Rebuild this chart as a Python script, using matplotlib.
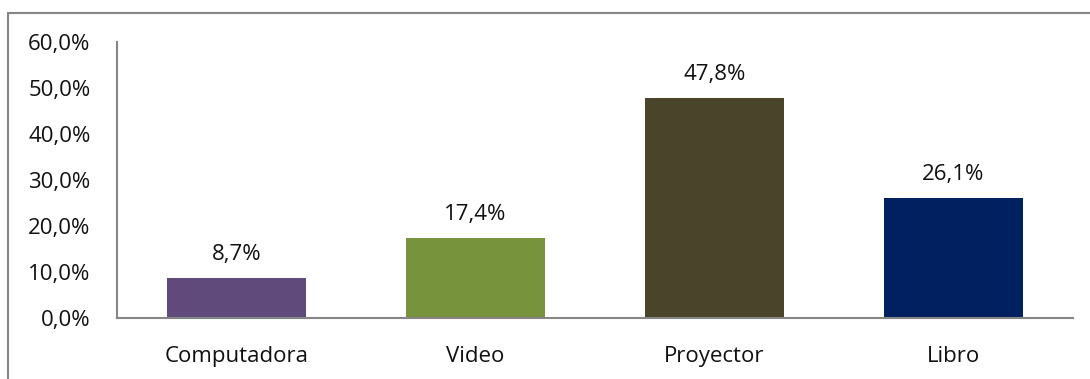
import matplotlib
matplotlib.use("Agg")
import matplotlib.pyplot as plt
from matplotlib.patches import Rectangle
from matplotlib.ticker import FuncFormatter

categories = ["Computadora", "Video", "Proyector", "Libro"]
values = [8.7, 17.4, 47.8, 26.1]
colors = ["#604A7B", "#77933C", "#4A442A", "#002060"]
yticks = [0, 10, 20, 30, 40, 50, 60]

plt.rcParams['font.family'] = ['Open Sans', 'DejaVu Sans']

fig = plt.figure(figsize=(10.9, 3.79), dpi=100)
ax = fig.add_axes([117/1090, (379-318)/379, (1073-117)/1090, (318-42)/379])

x = list(range(len(categories)))
ax.bar(x, values, width=0.58, color=colors)
for xi, v in zip(x, values):
    ax.annotate(f"{v:.1f}%".replace(".", ","), (xi, v), xytext=(0, 9.5),
                textcoords="offset points", ha="center", va="bottom", fontsize=16, color="#111111")

ax.set_xlim(-0.5, len(categories) - 0.5)
ax.set_ylim(0, 60)
ax.set_yticks(yticks)
ax.yaxis.set_major_formatter(FuncFormatter(lambda v, p: f"{v:.1f}%".replace(".", ",")))
ax.set_xticks(x)
ax.set_xticklabels(categories)
ax.tick_params(axis="both", length=0, labelsize=16, colors="#111111")
ax.tick_params(axis="y", pad=19)
ax.tick_params(axis="x", pad=20)
for s in ["top", "right"]:
    ax.spines[s].set_visible(False)
for s in ["left", "bottom"]:
    ax.spines[s].set_color("#868686")
    ax.spines[s].set_linewidth(1.5)

fig.patches.append(Rectangle((8/1090, -0.1), 1.2, (379-13)/379 + 0.1, transform=fig.transFigure,
                             fill=False, edgecolor="#868686", linewidth=1.5))

fig.savefig("out.png", dpi=100)
